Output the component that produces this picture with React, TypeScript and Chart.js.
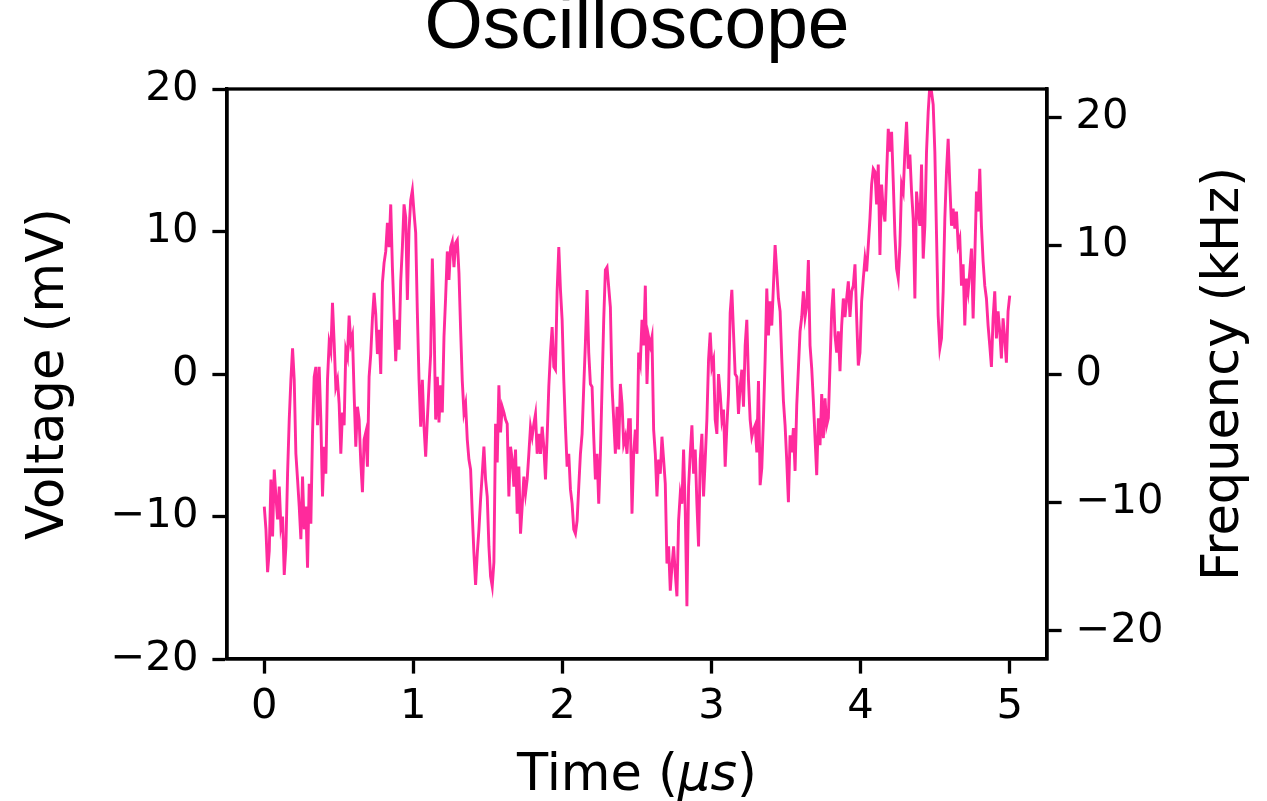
import React, { useEffect, useRef } from "react";
import { Chart, registerables } from "chart.js";

Chart.register(...registerables);

// ---- text ----
const TITLE = "Oscilloscope";
const X_LABEL_PARTS = ["Time (", "μs", ")"]; // unit drawn in italics
const Y_LABEL = "Voltage (mV)";
const Y2_LABEL = "Frequency (kHz)";

// ---- axes ----
const X_TICKS = [0, 1, 2, 3, 4, 5];
const Y_TICKS = [-20, -10, 0, 10, 20];
const Y2_TICKS = [-20, -10, 0, 10, 20];
const X_RANGE = [-0.25, 5.25];
const Y_RANGE = [-20, 20];
const Y2_RANGE = [-22.2, 22.2];

// ---- trace: voltage samples (mV), consecutive blocks, one sample every SAMPLE_STEP µs ----
const SAMPLE_STEP = 5 / 448;

const block1 = [
  -9.3, -10.9, -13.9, -12.4, -7.4, -11.4, -6.7, -8.6, -10.2, -7.9,
  -10.7, -10.0, -14.1, -12.1, -7.0, -3.2, -0.4, 1.8, -0.4, -5.6,
  -7.4, -9.3, -11.6, -7.2, -10.9, -9.3, -13.6, -7.7, -10.5, -4.1,
  -0.2, 0.5, -3.6, 0.5, -3.2, -8.6, -5.1, -7.0, -0.4, 2.2,
  1.6, 5.0, 2.2, -0.9, -0.4, -2.1, -5.6, -2.7, -3.6, 1.7,
  1.2, 4.1, 2.2, 2.7, -1.4, -5.1, -2.3, -3.2, -6.2, -8.3,
  -4.6, -4.1, -6.5, -0.2, 1.4, 3.9, 5.7, 4.2, 1.4, 3.1,
  0.0, 6.4, 7.8, 8.6,
];

const block2 = [
  10.6, 8.9, 11.9, 7.5, 4.3, 0.9, 3.8, 1.7, 6.5, 8.9,
  11.9, 11.0, 5.2, 10.1, 12.2, 12.9, 11.3, 9.9, 4.3, -0.4,
  -3.7, -0.4, -3.7, -5.8, -3.2, -0.8, 1.4, 8.1, 3.8, -3.2,
  -0.2, -3.4, -0.8, -2.7, 2.6, 5.4, 8.6, 6.6, 8.9, 9.3,
  7.5, 9.2, 9.4, 7.1, 3.1, -0.5, -2.7, -2.1, -4.6, -6.0,
  -6.7, -9.8, -12.6, -14.8, -12.6, -10.9, -8.8, -7.0, -5.1, -7.4,
  -8.6, -12.1, -14.2, -14.9, -13.2, -3.5, -6.2, -0.8, -4.1, -2.3,
  -2.7,
];

const block3 = [
  -3.2, -3.5, -8.6, -5.1, -6.0, -7.9, -5.3, -9.8, -6.5, -11.2,
  -9.3, -7.2, -8.4, -7.4, -5.6, -3.7, -4.4, -3.5, -2.8, -5.6,
  -4.2, -5.6, -3.7, -5.1, -7.4, -4.4, -0.9, 1.5, 3.3, 0.5,
  0.3, 5.8, 8.9, 5.9, 3.8, -0.4, -3.7, -6.5, -5.6, -8.1,
  -9.1, -10.9, -11.2, -10.3, -7.9, -5.6, -4.2, -0.9, 2.2, 5.9,
  1.5, -0.7, -0.9, -4.4, -7.4, -5.6, -9.1, -5.6, -0.9, 3.8,
  7.3, 7.5, 6.1, 4.7, -0.9, -3.2, -5.6, -2.3, -5.3, -0.7,
  -2.1, -4.9, -4.4, -5.6, -3.2,
];

const block4 = [
  -3.2, -9.8, -5.6, -3.9, -5.6, 1.5, 0.8, 3.8, 2.0, 6.2,
  -0.7, 2.6, 2.0, 2.6, -3.9, -5.6, -8.6, -6.0, -7.0, -4.4,
  -6.0, -7.7, -13.3, -12.1, -15.2, -13.5, -12.1, -14.0, -15.6, -10.3,
  -8.4, -9.1, -5.3, -9.6, -16.3, -7.9, -5.6, -3.6, -7.0, -5.3,
  -9.1, -12.1, -6.0, -4.2, -8.6, -6.0, -3.2, 1.0, 2.9, 0.5,
  1.0, -3.2, -4.2, 0.0, -1.4, -3.2, -2.5, -6.5, -3.7, -1.4,
  4.3, 5.9, 2.9, 0.0, -0.2, -2.8, -0.9, 0.3, -2.3, 2.0,
  3.8, -0.4, -3.2, -4.4, -3.9,
];

const block5 = [
  -3.6, -5.5, -0.5, -7.8, -6.6, -3.1, 1.0, 6.0, 2.7, 5.1,
  3.4, 6.2, 9.05, 7.2, 5.3, 4.4, 1.1, -1.9, -3.6, -6.1,
  -9.0, -4.3, -5.5, -3.8, -6.8, -2.2, 0.4, 3.0, 4.0, 5.8,
  4.0, 4.8, 8.0, 2.0, 0.4, -1.9, -4.5, -7.1, -3.1, -5.0,
  -1.4, -4.5, -1.7, -3.6, -3.1, 0.6, 4.4, 6.0, 2.7, 1.5,
  3.0, 0.2, 3.4, 5.3, 4.0, 5.3, 6.5, 4.0, 5.8, 6.2,
  7.7, 4.0, 0.6, 1.5, 5.1, 6.7, 8.1, 7.2, 9.05, 10.9,
  13.3, 14.4,
];

const block6 = [
  14.2, 11.9, 14.7, 8.35, 13.3, 11.5, 10.7, 14.0, 17.2, 15.6,
  17.0, 13.5, 9.8, 7.4, 6.7, 9.05, 13.3, 12.8, 15.6, 17.7,
  14.4, 15.4, 12.8, 10.9, 5.3, 12.8, 11.4, 10.4, 14.7, 8.1,
  10.4, 15.6, 18.4, 20.3, 19.8, 18.9, 15.6, 9.8, 4.1, 1.8,
  2.5, 5.8, 10.9, 14.2, 16.5, 13.3, 10.4, 11.6, 10.2, 11.4,
  9.05, 9.5, 6.2, 7.7, 3.4, 6.7, 5.8, 7.2, 8.8, 3.9,
  8.1, 12.8, 11.4, 14.4, 10.4, 7.9, 6.2, 5.3, 3.4, 2.0,
  0.5, 3.9, 5.8, 2.5, 4.4, 3.0, 1.1, 3.9, 2.5, 0.8,
  4.4, 5.5,
];

const voltage = [...block1, ...block2, ...block3, ...block4, ...block5, ...block6];

const LINE_COLOR = "#ff2a9c";
const TICK_FONT = "'DejaVu Sans'";
const TICK_SIZE = 41.7;

const fmt = (v: number) => (v < 0 ? "\u2212" + Math.abs(v) : String(v));

const setTicks = (values: number[]) => (scale: any) => {
  scale.ticks = values.map((value) => ({ value }));
};

const axisCommon = {
  grid: {
    display: true,
    drawOnChartArea: false,
    drawTicks: true,
    tickLength: 14.6,
    tickWidth: 3.3,
    tickColor: "#000",
  },
  border: { display: true, color: "#000", width: 3.3 },
};

const labelsPlugin = {
  id: "scopeLabels",
  afterDatasetsDraw(chart: any) {
    const { ctx, chartArea: a } = chart;
    ctx.save();
    ctx.strokeStyle = "#000";
    ctx.lineWidth = 3.3;
    ctx.strokeRect(a.left, a.top, a.right - a.left, a.bottom - a.top);
    ctx.restore();
  },
  afterDraw(chart: any) {
    const { ctx, chartArea: a } = chart;
    const cx = (a.left + a.right) / 2;
    const cy = (a.top + a.bottom) / 2;
    ctx.save();
    ctx.fillStyle = "#000";
    ctx.textBaseline = "alphabetic";

    // title
    ctx.textAlign = "center";
    ctx.font = "75px 'Liberation Sans'";
    ctx.fillText(TITLE, cx, 48);

    // x label with italic unit
    const regular = "51px 'DejaVu Sans'";
    const italic = "italic 51px 'DejaVu Sans'";
    const fonts = [regular, italic, regular];
    const widths = X_LABEL_PARTS.map((t, i) => {
      ctx.font = fonts[i];
      return ctx.measureText(t).width;
    });
    let x = cx - widths.reduce((s, w) => s + w, 0) / 2;
    ctx.textAlign = "left";
    X_LABEL_PARTS.forEach((t, i) => {
      ctx.font = fonts[i];
      ctx.fillText(t, x, 790);
      x += widths[i];
    });

    // rotated y labels
    ctx.textAlign = "center";
    ctx.font = regular;
    const drawUp = (text: string, bx: number) => {
      ctx.save();
      ctx.translate(bx, cy);
      ctx.rotate(-Math.PI / 2);
      ctx.fillText(text, 0, 0);
      ctx.restore();
    };
    drawUp(Y_LABEL, 63);
    drawUp(Y2_LABEL, 1238);
    ctx.restore();
  },
};

export default function App() {
  const canvasRef = useRef<HTMLCanvasElement | null>(null);

  useEffect(() => {
    const canvas = canvasRef.current;
    if (!canvas) return;
    const points = voltage.map((v, i) => ({ x: i * SAMPLE_STEP, y: v }));

    const chart = new Chart(canvas, {
      type: "line",
      data: {
        datasets: [
          {
            data: points,
            borderColor: LINE_COLOR,
            borderWidth: 2.9,
            pointRadius: 0,
            tension: 0,
            fill: false,
            yAxisID: "y",
          },
        ],
      },
      options: {
        responsive: false,
        animation: false,
        devicePixelRatio: 1,
        events: [],
        layout: { padding: { top: 89, left: 0, right: 0, bottom: 0 } },
        plugins: {
          legend: { display: false },
          title: { display: false },
          tooltip: { enabled: false },
        },
        scales: {
          x: {
            ...axisCommon,
            type: "linear",
            position: "bottom",
            min: X_RANGE[0],
            max: X_RANGE[1],
            afterBuildTicks: setTicks(X_TICKS),
            afterFit: (s: any) => {
              s.height = 142;
            },
            ticks: {
              autoSkip: false,
              maxRotation: 0,
              padding: 9,
              color: "#000",
              font: { family: TICK_FONT, size: TICK_SIZE },
              callback: (v: any) => fmt(Number(v)),
            },
          },
          y: {
            ...axisCommon,
            type: "linear",
            position: "left",
            min: Y_RANGE[0],
            max: Y_RANGE[1],
            afterBuildTicks: setTicks(Y_TICKS),
            afterFit: (s: any) => {
              s.width = 227;
            },
            ticks: {
              padding: 14,
              color: "#000",
              font: { family: TICK_FONT, size: TICK_SIZE },
              callback: (v: any) => fmt(Number(v)),
            },
          },
          y2: {
            ...axisCommon,
            type: "linear",
            position: "right",
            min: Y2_RANGE[0],
            max: Y2_RANGE[1],
            afterBuildTicks: setTicks(Y2_TICKS),
            afterFit: (s: any) => {
              s.width = 220;
            },
            ticks: {
              padding: 14,
              color: "#000",
              font: { family: TICK_FONT, size: TICK_SIZE },
              callback: (v: any) => fmt(Number(v)),
            },
          },
        },
      },
      plugins: [labelsPlugin],
    } as any);

    return () => chart.destroy();
  }, []);

  return (
    <div
      style={{
        position: "absolute",
        left: 0,
        top: 0,
        width: 1267,
        height: 801,
        background: "#fff",
      }}
    >
      <canvas ref={canvasRef} width={1267} height={801} style={{ display: "block" }} />
    </div>
  );
}
